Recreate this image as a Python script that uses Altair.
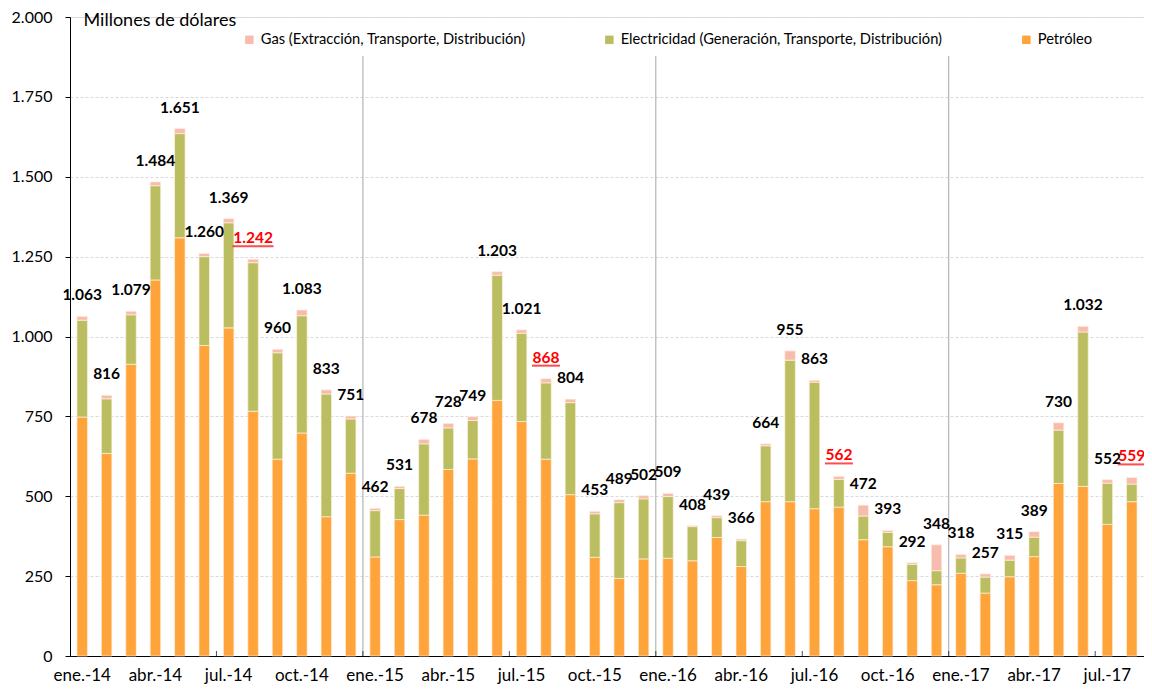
import altair as alt
import pandas as pd

# ---- data ----
meses = [
    "ene.-14", "feb.-14", "mar.-14", "abr.-14", "may.-14", "jun.-14", "jul.-14", "ago.-14", "sept.-14", "oct.-14", "nov.-14", "dic.-14",
    "ene.-15", "feb.-15", "mar.-15", "abr.-15", "may.-15", "jun.-15", "jul.-15", "ago.-15", "sept.-15", "oct.-15", "nov.-15", "dic.-15",
    "ene.-16", "feb.-16", "mar.-16", "abr.-16", "may.-16", "jun.-16", "jul.-16", "ago.-16", "sept.-16", "oct.-16", "nov.-16", "dic.-16",
    "ene.-17", "feb.-17", "mar.-17", "abr.-17", "may.-17", "jun.-17", "jul.-17", "ago.-17",
]
petroleo = [748, 634, 913, 1177, 1309, 972, 1027, 766, 616, 698, 436, 572,
            310, 427, 441, 584, 617, 800, 734, 616, 505, 309, 243, 304,
            306, 298, 371, 280, 483, 483, 461, 466, 364, 342, 236, 223,
            259, 197, 248, 311, 540, 531, 412, 483]
electricidad = [303, 171, 155, 295, 326, 278, 329, 465, 333, 367, 384, 170,
                145, 97, 223, 130, 120, 392, 276, 239, 288, 136, 237, 188,
                193, 107, 62, 81, 175, 443, 396, 87, 74, 45, 51, 44,
                48, 50, 52, 61, 167, 483, 129, 55]
gas = [12, 11, 11, 12, 16, 10, 13, 11, 11, 18, 13, 9,
       7, 7, 14, 14, 12, 11, 11, 13, 11, 8, 9, 10,
       10, 3, 6, 5, 6, 29, 6, 9, 34, 6, 5, 81,
       11, 10, 15, 17, 23, 18, 11, 21]
meses_destacados = ["ago.-14", "ago.-15", "ago.-16", "ago.-17"]
etiquetas_eje = [m for m in meses if m.split(".")[0] in ("ene", "abr", "jul", "oct")]
separadores = ["ene.-15", "ene.-16", "ene.-17"]
marcas_eje = ["jul.-14", "ene.-15", "jul.-15", "ene.-16", "jul.-16", "ene.-17", "jul.-17"]

series = [
    "Gas (Extracción, Transporte, Distribución)",
    "Electricidad (Generación, Transporte, Distribución)",
    "Petróleo",
]
colores = ["#F8BCAE", "#BBBE60", "#FFA43B"]

# ---- tables ----
filas = []
for i, m in enumerate(meses):
    filas.append({"mes": m, "serie": series[2], "valor": petroleo[i], "ord": 0})
    filas.append({"mes": m, "serie": series[1], "valor": electricidad[i], "ord": 1})
    filas.append({"mes": m, "serie": series[0], "valor": gas[i], "ord": 2})
df = pd.DataFrame(filas)

totales = [p + e + g for p, e, g in zip(petroleo, electricidad, gas)]
df_tot = pd.DataFrame({
    "mes": meses,
    "total": totales,
    "label": [f"{t:,}".replace(",", ".") for t in totales],
    "destacado": [m in meses_destacados for m in meses],
})
df_sep = pd.DataFrame({"mes": separadores, "y0": 0, "y1": 1878})
df_marca = pd.DataFrame({"mes": marcas_eje, "y0": 0})

FONT = "Lato"
W = 1074
STEP = W / len(meses)

xscale = alt.Scale(domain=meses, paddingInner=0.57, paddingOuter=0.285)
xenc = alt.X(
    "mes:N",
    scale=xscale,
    sort=meses,
    axis=alt.Axis(
        values=etiquetas_eje, title=None, ticks=False, labelAngle=0,
        domainColor="#000000", labelFont=FONT, labelFontSize=17,
        labelColor="#000000", labelPadding=11, grid=False,
    ),
)
yscale = alt.Scale(domain=[0, 2000], nice=False)

bars = alt.Chart(df).mark_bar(stroke="#FDF0DC", strokeWidth=0.7).encode(
    x=xenc,
    y=alt.Y(
        "valor:Q",
        stack="zero",
        scale=yscale,
        axis=alt.Axis(
            values=list(range(0, 2001, 250)),
            title="Millones de dólares", titleAngle=0, titleAlign="left",
            titleBaseline="middle", titleX=13, titleY=3, titleFont=FONT,
            titleFontSize=18, titleFontWeight="normal", titleColor="#000000",
            labelExpr="replace(format(datum.value, ','), ',', '.')",
            labelFont=FONT, labelFontSize=16, labelColor="#000000",
            labelPadding=13, tickSize=5, tickColor="#000000",
            domainColor="#000000", grid=True, gridColor="#D9D9D9",
            gridDash=[3, 2],
        ),
    ),
    color=alt.Color(
        "serie:N",
        scale=alt.Scale(domain=series, range=colores),
        legend=alt.Legend(
            title=None, orient="none", direction="horizontal",
            legendX=172, legendY=15, symbolType="square", symbolSize=72,
            symbolStrokeWidth=0, labelFont=FONT, labelFontSize=14.7,
            labelColor="#000000", labelOffset=4, columnPadding=76,
            padding=0, labelLimit=500,
        ),
    ),
    order=alt.Order("ord:Q", sort="ascending"),
)

seps = alt.Chart(df_sep).mark_rule(color="#A6A6A6", strokeWidth=1, xOffset=-STEP / 2).encode(
    x=alt.X("mes:N", scale=xscale, sort=meses),
    y=alt.Y("y0:Q", scale=yscale),
    y2="y1:Q",
)

marcas = alt.Chart(df_marca).mark_tick(
    color="#000000", orient="vertical", size=5, thickness=1,
    xOffset=-STEP / 2, yOffset=-2.5,
).encode(
    x=alt.X("mes:N", scale=xscale, sort=meses),
    y=alt.Y("y0:Q", scale=yscale),
)

labels = alt.Chart(df_tot).mark_text(
    font=FONT, fontSize=15.5, fontWeight="bold", dy=-21, baseline="middle", align="center",
).encode(
    x=alt.X("mes:N", scale=xscale, sort=meses),
    y=alt.Y("total:Q", scale=yscale),
    text="label:N",
    color=alt.condition(alt.datum.destacado, alt.value("#FF0000"), alt.value("#000000")),
)

subrayado = alt.Chart(df_tot).transform_filter(alt.datum.destacado).transform_calculate(
    ancho="length(datum.label) > 3 ? 41 : 28"
).mark_tick(color="#FF0000", orient="horizontal", thickness=2, yOffset=-13).encode(
    x=alt.X("mes:N", scale=xscale, sort=meses),
    y=alt.Y("total:Q", scale=yscale),
    size=alt.Size("ancho:Q", scale=None, legend=None),
)

chart = alt.layer(bars, seps, marcas, labels, subrayado).properties(
    width=W,
    height=639,
    autosize=alt.AutoSizeParams(type="none"),
    padding={"left": 62, "top": 9, "right": 0, "bottom": 29},
).configure_view(stroke=None).configure(background="white")

chart.save("out.html", embed_options={"renderer": "svg", "actions": False})
